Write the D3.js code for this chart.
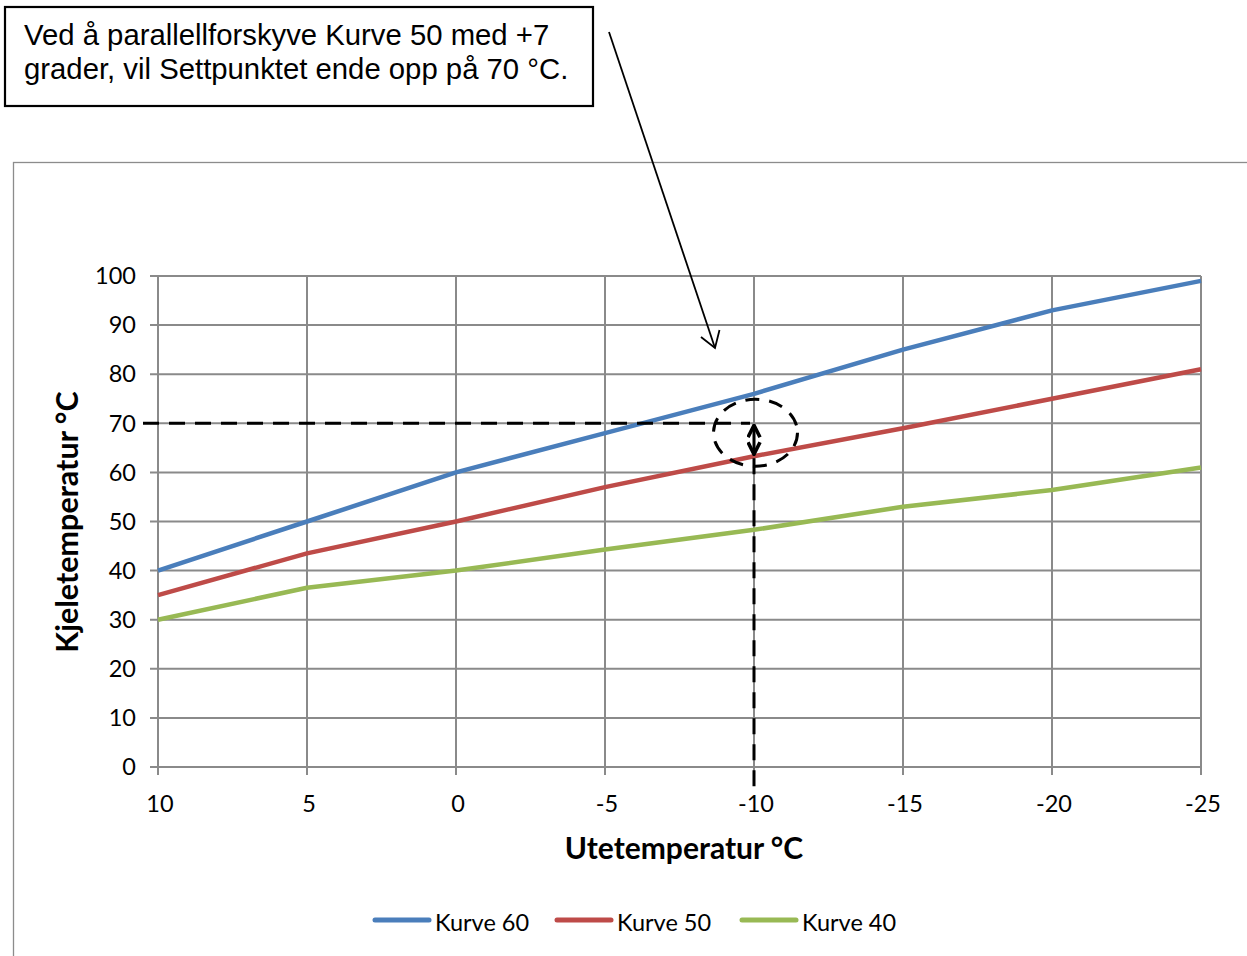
<!DOCTYPE html>
<html>
<head>
<meta charset="utf-8">
<script src="https://cdn.jsdelivr.net/npm/d3@7"></script>
<style>
  html, body { margin: 0; padding: 0; background: #fff; }
  svg { display: block; }
</style>
</head>
<body>
<svg id="chart" width="1247" height="956"></svg>
<script>
// Outdoor temperature categories (x axis, °C)
const outdoor = ["10", "5", "0", "-5", "-10", "-15", "-20", "-25"];
// Boiler temperature for each heating curve (°C)
const kurve60 = [40, 50, 60, 68, 76, 85, 93, 99];
const kurve50 = [35, 43.5, 50, 57, 63.3, 69, 75, 81];
const kurve40 = [30, 36.5, 40, 44.3, 48.3, 53, 56.4, 61];
const seriesNames = ["Kurve 60", "Kurve 50", "Kurve 40"];
const seriesColors = ["#4A7EBB", "#BE4B48", "#98B954"];
const yTicks = [0, 10, 20, 30, 40, 50, 60, 70, 80, 90, 100];
// Setpoint after shifting Kurve 50 by +7 degrees at -10 °C outdoor
const setpoint = 70;
const setpointCategory = "-10";
const noteLines = ["Ved å parallellforskyve Kurve 50 med +7", "grader, vil Settpunktet ende opp på 70 °C."];

const series = [kurve60, kurve50, kurve40].map((v, i) => ({
  name: seriesNames[i], color: seriesColors[i],
  points: outdoor.map((c, j) => ({ c, v: v[j] }))
}));

const svg = d3.select("#chart");
const labelFont = "Lato, 'Open Sans', sans-serif";
const grid = "#8a8a8a";

const x = d3.scalePoint().domain(outdoor).range([158, 1201]);
const y = d3.scaleLinear().domain([0, 100]).range([767, 276]);

// Chart frame
svg.append("rect").attr("x", 13.5).attr("y", 162.5).attr("width", 1260).attr("height", 820)
  .attr("fill", "none").attr("stroke", "#8c8c8c").attr("stroke-width", 1.3);

// Horizontal gridlines
svg.append("g").selectAll("line").data(yTicks).join("line")
  .attr("x1", 150).attr("x2", x("-25"))
  .attr("y1", d => y(d)).attr("y2", d => y(d))
  .attr("stroke", grid).attr("stroke-width", 2);

// Vertical gridlines
svg.append("g").selectAll("line").data(outdoor).join("line")
  .attr("x1", d => x(d)).attr("x2", d => x(d))
  .attr("y1", y(100)).attr("y2", y(0) + 8)
  .attr("stroke", grid).attr("stroke-width", 2);

// Y tick labels
svg.append("g").selectAll("text").data(yTicks).join("text")
  .attr("x", 136).attr("y", d => y(d)).attr("dy", "0.35em")
  .attr("text-anchor", "end").attr("font-family", labelFont).attr("font-size", 23.5)
  .attr("fill", "#000").text(d => d);

// X tick labels
svg.append("g").selectAll("text").data(outdoor).join("text")
  .attr("x", d => x(d) + 2).attr("y", 804).attr("dy", "0.35em")
  .attr("text-anchor", "middle").attr("font-family", labelFont).attr("font-size", 23.5)
  .attr("fill", "#000").text(d => d);

// Axis titles
svg.append("text").attr("x", 684).attr("y", 848).attr("dy", "0.35em")
  .attr("text-anchor", "middle").attr("font-family", labelFont).attr("font-weight", "bold")
  .attr("font-size", 30).text("Utetemperatur °C");
svg.append("text").attr("transform", "translate(67,522) rotate(-90)").attr("dy", "0.35em")
  .attr("text-anchor", "middle").attr("font-family", labelFont).attr("font-weight", "bold")
  .attr("font-size", 30.5).text("Kjeletemperatur °C");

// Curves
const line = d3.line().x(d => x(d.c)).y(d => y(d.v));
svg.append("g").selectAll("path").data(series).join("path")
  .attr("d", d => line(d.points)).attr("fill", "none")
  .attr("stroke", d => d.color).attr("stroke-width", 4.5)
  .attr("stroke-linejoin", "round");

// Setpoint guides (dashed)
const sx = x(setpointCategory);
svg.append("line").attr("x1", 143).attr("x2", sx - 4).attr("y1", y(setpoint)).attr("y2", y(setpoint))
  .attr("stroke", "#000").attr("stroke-width", 3).attr("stroke-dasharray", "16,10");
const k50At = kurve50[outdoor.indexOf(setpointCategory)];
svg.append("line").attr("x1", sx).attr("x2", sx).attr("y1", y(k50At) + 2).attr("y2", 796)
  .attr("stroke", "#000").attr("stroke-width", 3).attr("stroke-dasharray", "16,10");

// Double-headed arrow between Kurve 50 and the setpoint
const defs = svg.append("defs");
defs.append("marker").attr("id", "head").attr("viewBox", "0 0 10 10")
  .attr("refX", 9).attr("refY", 5).attr("markerWidth", 5).attr("markerHeight", 5)
  .attr("orient", "auto-start-reverse")
  .append("path").attr("d", "M1,1 L9,5 L1,9").attr("fill", "none").attr("stroke", "#000").attr("stroke-width", 2.4);
svg.append("line").attr("x1", sx).attr("x2", sx).attr("y1", y(k50At) - 2).attr("y2", y(setpoint) + 2)
  .attr("stroke", "#000").attr("stroke-width", 3)
  .attr("marker-start", "url(#head)").attr("marker-end", "url(#head)");

// Dashed highlight ellipse
svg.append("ellipse").attr("cx", sx + 1.5).attr("cy", (y(setpoint) + y(k50At)) / 2 - 7)
  .attr("rx", 42).attr("ry", 33.5).attr("fill", "none")
  .attr("stroke", "#000").attr("stroke-width", 3).attr("stroke-dasharray", "14,10");

// Note box
svg.append("rect").attr("x", 5).attr("y", 7).attr("width", 588).attr("height", 99)
  .attr("fill", "#fff").attr("stroke", "#000").attr("stroke-width", 2.2);
svg.append("g").selectAll("text").data(noteLines).join("text")
  .attr("x", 24).attr("y", (d, i) => 45 + i * 34)
  .attr("font-family", "'Liberation Sans', Arial, sans-serif").attr("font-size", 29.3)
  .attr("fill", "#000").text(d => d);

// Pointer arrow from note to Kurve 60
svg.append("line").attr("x1", 609).attr("y1", 32).attr("x2", 715).attr("y2", 348)
  .attr("stroke", "#000").attr("stroke-width", 1.8);
svg.append("path").attr("d", "M701,337 L715,348 L719.5,330").attr("fill", "none")
  .attr("stroke", "#000").attr("stroke-width", 1.8);

// Legend
const legendX = [375, 557, 742];
const lg = svg.append("g").selectAll("g").data(series).join("g")
  .attr("transform", (d, i) => `translate(${legendX[i]},920)`);
lg.append("line").attr("x1", 0).attr("x2", 54).attr("y1", 0).attr("y2", 0)
  .attr("stroke", d => d.color).attr("stroke-width", 5).attr("stroke-linecap", "round");
lg.append("text").attr("x", 60).attr("y", 3).attr("dy", "0.35em")
  .attr("font-family", labelFont).attr("font-size", 23.5).text(d => d.name);
</script>
</body>
</html>
